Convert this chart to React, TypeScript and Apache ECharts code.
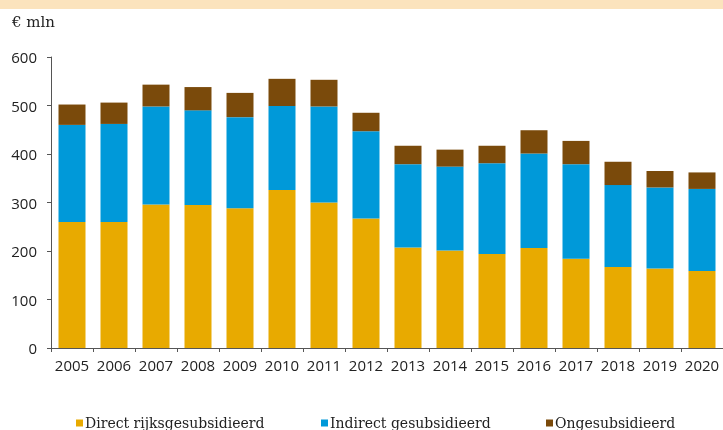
import React, { useEffect, useRef } from "react";
import * as echarts from "echarts";

const categories = ["2005","2006","2007","2008","2009","2010","2011","2012","2013","2014","2015","2016","2017","2018","2019","2020"];
const directValues = [260,260,296,295,288,326,300,267,207,201,194,206,184,167,164,159];
const indirectValues = [200,202,202,195,188,173,198,180,172,173,187,195,195,169,167,169];
const ongesValues = [42,44,45,48,50,56,55,38,38,35,36,48,48,48,34,34];
const seriesNames = ["Direct rijksgesubsidieerd", "Indirect gesubsidieerd", "Ongesubsidieerd"];
const seriesColors = ["#E8AA00", "#0099D9", "#7A4A0B"];

export default function App() {
  const ref = useRef<HTMLDivElement>(null);
  useEffect(() => {
    if (!ref.current) return;
    const chart = echarts.init(ref.current, null, { renderer: "svg" });
    const legendBase = {
      top: 411,
      itemWidth: 7,
      itemHeight: 7,
      itemGap: 4,
      icon: "rect",
      textStyle: { fontFamily: "DejaVu Serif", fontSize: 14, color: "#222", padding: [0, 0, 0, -3] },
    };
    const vals = [directValues, indirectValues, ongesValues];
    chart.setOption({
      animation: false,
      graphic: [
        { type: "rect", shape: { x: 0, y: 0, width: 723, height: 9 }, style: { fill: "#FBE3BD" } },
        { type: "text", left: 12, top: 14, style: { text: "€ mln", font: "15px 'DejaVu Serif'", fill: "#222" } },
      ],
      legend: [
        { ...legendBase, left: 71, data: [seriesNames[0]] },
        { ...legendBase, left: 316, data: [seriesNames[1]] },
        { ...legendBase, left: 541, data: [seriesNames[2]] },
      ],
      grid: { left: 51, right: -2, top: 57, bottom: 82 },
      xAxis: {
        type: "category",
        data: categories,
        axisLine: { lineStyle: { color: "#555", width: 1 } },
        axisTick: { show: true, length: 4, interval: 0, lineStyle: { color: "#555" } },
        axisLabel: { interval: 0, fontFamily: "Open Sans", fontSize: 15, color: "#222", margin: 9 },
      },
      yAxis: {
        type: "value",
        min: 0,
        max: 600,
        interval: 100,
        splitLine: { show: false },
        axisLine: { show: true, lineStyle: { color: "#555", width: 1 } },
        axisTick: { show: true, length: 4, lineStyle: { color: "#555" } },
        axisLabel: { fontFamily: "Open Sans", fontSize: 15, color: "#222", margin: 14 },
      },
      series: seriesNames.map((name, i) => ({
        name,
        type: "bar",
        stack: "total",
        data: vals[i],
        barWidth: 27,
        itemStyle: { color: seriesColors[i] },
      })),
    });
    return () => chart.dispose();
  }, []);
  return <div ref={ref} style={{ position: "fixed", left: 0, top: 0, width: 723, height: 430 }} />;
}
